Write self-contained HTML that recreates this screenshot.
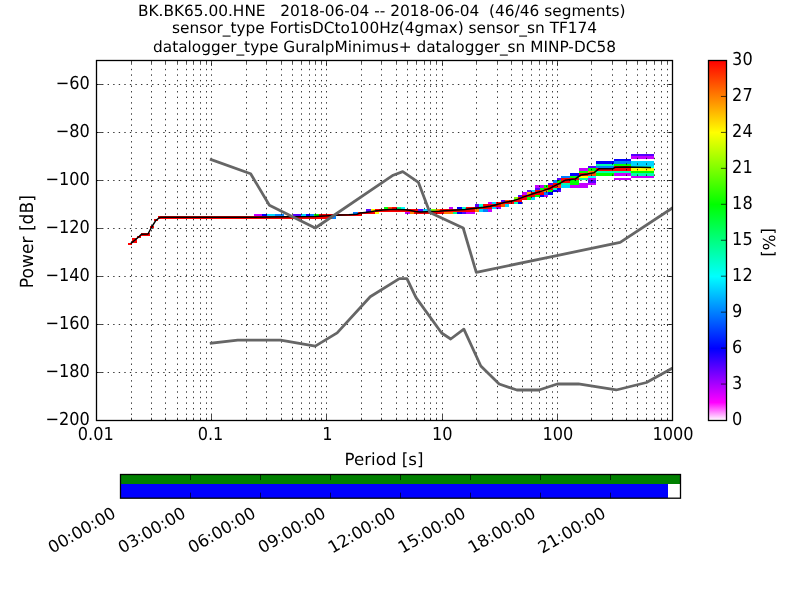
<!DOCTYPE html><html><head><meta charset="utf-8"><style>html,body{margin:0;padding:0;background:#fff;overflow:hidden}svg{display:block;will-change:transform;text-rendering:geometricPrecision}</style></head><body>
<svg width="800" height="600" viewBox="0 0 800 600" style="font-family:'DejaVu Sans','Liberation Sans',sans-serif">
<defs><clipPath id="c"><rect x="96.0" y="60.0" width="576.0" height="360.0"/></clipPath>
<linearGradient id="cm" x1="0" y1="1" x2="0" y2="0"><stop offset="0" stop-color="#fff"/><stop offset="0.05" stop-color="#f0f"/><stop offset="0.2" stop-color="#00f"/><stop offset="0.4" stop-color="#0ff"/><stop offset="0.6" stop-color="#0f0"/><stop offset="0.8" stop-color="#ff0"/><stop offset="1" stop-color="#f00"/></linearGradient></defs>
<g shape-rendering="crispEdges"><rect x="128" y="243" width="4" height="2" fill="#ff0000"/><rect x="132" y="240" width="5" height="3" fill="#ff0000"/><rect x="132" y="238" width="5" height="2" fill="#ff0000"/><rect x="137" y="236" width="4" height="2" fill="#ff0000"/><rect x="141" y="233" width="4" height="3" fill="#ff0000"/><rect x="145" y="233" width="5" height="3" fill="#ff0000"/><rect x="150" y="226" width="4" height="2" fill="#ff0000"/><rect x="154" y="219" width="4" height="2" fill="#ff0000"/><rect x="158" y="216" width="5" height="3" fill="#ff0000"/><rect x="163" y="216" width="4" height="3" fill="#ff0000"/><rect x="167" y="216" width="4" height="3" fill="#ff0000"/><rect x="171" y="216" width="5" height="3" fill="#ff0000"/><rect x="176" y="216" width="4" height="3" fill="#ff0000"/><rect x="180" y="216" width="4" height="3" fill="#ff0000"/><rect x="184" y="216" width="5" height="3" fill="#ff0000"/><rect x="189" y="216" width="4" height="3" fill="#ff0000"/><rect x="193" y="216" width="4" height="3" fill="#ff0000"/><rect x="197" y="216" width="5" height="3" fill="#ff0000"/><rect x="202" y="216" width="4" height="3" fill="#ff0000"/><rect x="206" y="216" width="4" height="3" fill="#ff0000"/><rect x="210" y="216" width="5" height="3" fill="#ff0000"/><rect x="215" y="216" width="4" height="3" fill="#ff0000"/><rect x="219" y="216" width="4" height="3" fill="#ff0000"/><rect x="223" y="216" width="5" height="3" fill="#ff0000"/><rect x="228" y="216" width="4" height="3" fill="#ff0000"/><rect x="232" y="216" width="4" height="3" fill="#ff0000"/><rect x="236" y="216" width="5" height="3" fill="#ff0000"/><rect x="241" y="216" width="4" height="3" fill="#ff0000"/><rect x="245" y="216" width="4" height="3" fill="#ff0000"/><rect x="249" y="216" width="5" height="3" fill="#ff0000"/><rect x="254" y="216" width="4" height="3" fill="#ff0000"/><rect x="254" y="214" width="4" height="2" fill="#c600ff"/><rect x="258" y="216" width="4" height="3" fill="#ff0000"/><rect x="258" y="214" width="4" height="2" fill="#c600ff"/><rect x="262" y="216" width="5" height="3" fill="#ff0000"/><rect x="262" y="214" width="5" height="2" fill="#0000ff"/><rect x="267" y="216" width="4" height="3" fill="#ff0000"/><rect x="267" y="214" width="4" height="2" fill="#00d4ff"/><rect x="271" y="216" width="4" height="3" fill="#ff0000"/><rect x="271" y="214" width="4" height="2" fill="#00d4ff"/><rect x="275" y="216" width="5" height="3" fill="#ff0000"/><rect x="275" y="214" width="5" height="2" fill="#007fff"/><rect x="280" y="216" width="4" height="3" fill="#ff0000"/><rect x="280" y="214" width="4" height="2" fill="#007fff"/><rect x="284" y="216" width="4" height="3" fill="#ff0000"/><rect x="288" y="216" width="5" height="3" fill="#ff0000"/><rect x="293" y="216" width="4" height="3" fill="#ff0000"/><rect x="293" y="214" width="4" height="2" fill="#5500ff"/><rect x="297" y="216" width="4" height="3" fill="#ff0000"/><rect x="297" y="214" width="4" height="2" fill="#5500ff"/><rect x="301" y="216" width="5" height="3" fill="#ff0000"/><rect x="301" y="214" width="5" height="2" fill="#00d4ff"/><rect x="306" y="216" width="4" height="3" fill="#ff0000"/><rect x="306" y="214" width="4" height="2" fill="#0000ff"/><rect x="310" y="216" width="4" height="3" fill="#ff0000"/><rect x="310" y="214" width="4" height="2" fill="#007fff"/><rect x="314" y="216" width="5" height="3" fill="#ff0000"/><rect x="314" y="214" width="5" height="2" fill="#00ff00"/><rect x="319" y="216" width="4" height="3" fill="#ff0000"/><rect x="319" y="214" width="4" height="2" fill="#ff0000"/><rect x="323" y="216" width="4" height="3" fill="#ff0000"/><rect x="323" y="214" width="4" height="2" fill="#ff0000"/><rect x="327" y="214" width="5" height="2" fill="#ff0000"/><rect x="327" y="216" width="5" height="3" fill="#ff0000"/><rect x="332" y="216" width="4" height="3" fill="#007fff"/><rect x="332" y="214" width="4" height="2" fill="#ff0000"/><rect x="336" y="214" width="4" height="2" fill="#ff0000"/><rect x="340" y="214" width="5" height="2" fill="#ff0000"/><rect x="345" y="214" width="4" height="2" fill="#ff0000"/><rect x="349" y="214" width="4" height="2" fill="#ff0000"/><rect x="353" y="214" width="5" height="2" fill="#ff0000"/><rect x="353" y="212" width="5" height="2" fill="#007fff"/><rect x="358" y="214" width="4" height="2" fill="#ff0000"/><rect x="358" y="212" width="4" height="2" fill="#ff0000"/><rect x="362" y="212" width="4" height="2" fill="#ff0000"/><rect x="366" y="212" width="5" height="2" fill="#ff0000"/><rect x="366" y="209" width="5" height="3" fill="#5500ff"/><rect x="371" y="212" width="4" height="2" fill="#ff0000"/><rect x="371" y="209" width="4" height="3" fill="#ffff00"/><rect x="375" y="212" width="4" height="2" fill="#ffff00"/><rect x="375" y="209" width="4" height="3" fill="#ff0000"/><rect x="379" y="209" width="5" height="3" fill="#ff0000"/><rect x="384" y="209" width="4" height="3" fill="#ff0000"/><rect x="384" y="207" width="4" height="2" fill="#00ff00"/><rect x="388" y="209" width="4" height="3" fill="#ff0000"/><rect x="388" y="207" width="4" height="2" fill="#ff5500"/><rect x="392" y="209" width="5" height="3" fill="#ff0000"/><rect x="392" y="207" width="5" height="2" fill="#ff0000"/><rect x="397" y="209" width="4" height="3" fill="#ff0000"/><rect x="397" y="207" width="4" height="2" fill="#00ff80"/><rect x="401" y="209" width="4" height="3" fill="#ff0000"/><rect x="401" y="207" width="4" height="2" fill="#00ffff"/><rect x="405" y="209" width="5" height="3" fill="#ff0000"/><rect x="405" y="212" width="5" height="2" fill="#c600ff"/><rect x="410" y="209" width="4" height="3" fill="#ff0000"/><rect x="410" y="212" width="4" height="2" fill="#ff8000"/><rect x="414" y="209" width="4" height="3" fill="#ff0000"/><rect x="414" y="212" width="4" height="2" fill="#ff0000"/><rect x="418" y="209" width="5" height="3" fill="#5500ff"/><rect x="418" y="212" width="5" height="2" fill="#ff0000"/><rect x="423" y="209" width="4" height="3" fill="#00d4ff"/><rect x="423" y="212" width="4" height="2" fill="#ff0000"/><rect x="427" y="209" width="4" height="3" fill="#00d4ff"/><rect x="427" y="212" width="4" height="2" fill="#ff0000"/><rect x="431" y="209" width="5" height="3" fill="#7fff00"/><rect x="431" y="212" width="5" height="2" fill="#ff0000"/><rect x="436" y="209" width="4" height="3" fill="#ff8000"/><rect x="436" y="212" width="4" height="2" fill="#ff0000"/><rect x="440" y="209" width="4" height="3" fill="#ff0000"/><rect x="440" y="212" width="4" height="2" fill="#ff0000"/><rect x="444" y="209" width="5" height="3" fill="#ff0000"/><rect x="444" y="212" width="5" height="2" fill="#ff8000"/><rect x="449" y="209" width="4" height="3" fill="#ff0000"/><rect x="449" y="212" width="4" height="2" fill="#ff8000"/><rect x="449" y="207" width="4" height="2" fill="#c600ff"/><rect x="453" y="209" width="4" height="3" fill="#ff0000"/><rect x="453" y="212" width="4" height="2" fill="#00ff80"/><rect x="457" y="209" width="5" height="3" fill="#ff0000"/><rect x="457" y="212" width="5" height="2" fill="#0000ff"/><rect x="457" y="207" width="5" height="2" fill="#0000ff"/><rect x="462" y="209" width="4" height="3" fill="#ff0000"/><rect x="462" y="212" width="4" height="2" fill="#5500ff"/><rect x="462" y="207" width="4" height="2" fill="#00ffd4"/><rect x="466" y="209" width="4" height="3" fill="#ff0000"/><rect x="466" y="212" width="4" height="2" fill="#c600ff"/><rect x="466" y="207" width="4" height="2" fill="#ff0000"/><rect x="470" y="209" width="5" height="3" fill="#ff0000"/><rect x="470" y="212" width="5" height="2" fill="#c600ff"/><rect x="470" y="207" width="5" height="2" fill="#ff0000"/><rect x="475" y="204" width="4" height="3" fill="#5500ff"/><rect x="475" y="207" width="4" height="2" fill="#ff0000"/><rect x="475" y="209" width="4" height="3" fill="#ff8000"/><rect x="479" y="204" width="4" height="3" fill="#00ffd4"/><rect x="479" y="207" width="4" height="2" fill="#ff0000"/><rect x="479" y="209" width="4" height="3" fill="#00d4ff"/><rect x="483" y="204" width="5" height="3" fill="#ff0000"/><rect x="483" y="207" width="5" height="2" fill="#ff0000"/><rect x="483" y="209" width="5" height="3" fill="#007fff"/><rect x="488" y="202" width="4" height="2" fill="#c600ff"/><rect x="488" y="204" width="4" height="3" fill="#ff0000"/><rect x="488" y="207" width="4" height="2" fill="#ff0000"/><rect x="488" y="209" width="4" height="3" fill="#c600ff"/><rect x="492" y="202" width="4" height="2" fill="#00d4ff"/><rect x="492" y="204" width="4" height="3" fill="#ff0000"/><rect x="492" y="207" width="4" height="2" fill="#00d4ff"/><rect x="496" y="202" width="5" height="2" fill="#ff0000"/><rect x="496" y="204" width="5" height="3" fill="#ff0000"/><rect x="496" y="207" width="5" height="2" fill="#aa00ff"/><rect x="501" y="200" width="4" height="2" fill="#5500ff"/><rect x="501" y="202" width="4" height="2" fill="#ff0000"/><rect x="501" y="204" width="4" height="3" fill="#ff5500"/><rect x="505" y="200" width="4" height="2" fill="#ff5500"/><rect x="505" y="202" width="4" height="2" fill="#ff0000"/><rect x="505" y="204" width="4" height="3" fill="#00d4ff"/><rect x="509" y="200" width="5" height="2" fill="#ff0000"/><rect x="509" y="202" width="5" height="2" fill="#ff0000"/><rect x="514" y="197" width="4" height="3" fill="#7fff00"/><rect x="514" y="200" width="4" height="2" fill="#ff0000"/><rect x="514" y="202" width="4" height="2" fill="#00ffaa"/><rect x="518" y="195" width="4" height="2" fill="#5500ff"/><rect x="518" y="197" width="4" height="3" fill="#ff0000"/><rect x="518" y="200" width="4" height="2" fill="#ff0000"/><rect x="518" y="202" width="4" height="2" fill="#0000ff"/><rect x="522" y="192" width="5" height="3" fill="#c600ff"/><rect x="522" y="195" width="5" height="2" fill="#ff0000"/><rect x="522" y="197" width="5" height="3" fill="#ff0000"/><rect x="527" y="190" width="4" height="2" fill="#5500ff"/><rect x="527" y="192" width="4" height="3" fill="#ffaa00"/><rect x="527" y="195" width="4" height="2" fill="#ff0000"/><rect x="527" y="197" width="4" height="3" fill="#00ff00"/><rect x="531" y="190" width="4" height="2" fill="#00d4ff"/><rect x="531" y="192" width="4" height="3" fill="#ff0000"/><rect x="531" y="195" width="4" height="2" fill="#ff0000"/><rect x="531" y="197" width="4" height="3" fill="#00d4ff"/><rect x="535" y="185" width="5" height="3" fill="#c600ff"/><rect x="535" y="188" width="5" height="2" fill="#5500ff"/><rect x="535" y="190" width="5" height="2" fill="#ff0000"/><rect x="535" y="192" width="5" height="3" fill="#ff0000"/><rect x="535" y="195" width="5" height="2" fill="#00ff00"/><rect x="540" y="185" width="4" height="3" fill="#c600ff"/><rect x="540" y="188" width="4" height="2" fill="#00ff00"/><rect x="540" y="190" width="4" height="2" fill="#ff5500"/><rect x="540" y="192" width="4" height="3" fill="#ff0000"/><rect x="540" y="195" width="4" height="2" fill="#0000ff"/><rect x="544" y="185" width="4" height="3" fill="#00ff00"/><rect x="544" y="188" width="4" height="2" fill="#ff0000"/><rect x="544" y="190" width="4" height="2" fill="#ff8000"/><rect x="544" y="192" width="4" height="3" fill="#007fff"/><rect x="544" y="195" width="4" height="2" fill="#c600ff"/><rect x="548" y="183" width="5" height="2" fill="#5500ff"/><rect x="548" y="185" width="5" height="3" fill="#ff0000"/><rect x="548" y="188" width="5" height="2" fill="#ff0000"/><rect x="548" y="190" width="5" height="2" fill="#00ff00"/><rect x="548" y="192" width="5" height="3" fill="#0000ff"/><rect x="553" y="180" width="4" height="3" fill="#007fff"/><rect x="553" y="183" width="4" height="2" fill="#ff0000"/><rect x="553" y="185" width="4" height="3" fill="#ff0000"/><rect x="553" y="188" width="4" height="2" fill="#00ffaa"/><rect x="553" y="190" width="4" height="2" fill="#0000ff"/><rect x="557" y="178" width="4" height="2" fill="#5500ff"/><rect x="557" y="180" width="4" height="3" fill="#00ff00"/><rect x="557" y="183" width="4" height="2" fill="#ff0000"/><rect x="557" y="185" width="4" height="3" fill="#ff5500"/><rect x="557" y="188" width="4" height="2" fill="#0000ff"/><rect x="557" y="190" width="4" height="2" fill="#5500ff"/><rect x="561" y="176" width="5" height="2" fill="#007fff"/><rect x="561" y="178" width="5" height="2" fill="#ff0000"/><rect x="561" y="180" width="5" height="3" fill="#ff0000"/><rect x="561" y="183" width="5" height="2" fill="#00ffaa"/><rect x="561" y="185" width="5" height="3" fill="#00d4ff"/><rect x="566" y="176" width="4" height="2" fill="#007fff"/><rect x="566" y="178" width="4" height="2" fill="#ff0000"/><rect x="566" y="180" width="4" height="3" fill="#ff0000"/><rect x="566" y="183" width="4" height="2" fill="#00ffaa"/><rect x="566" y="185" width="4" height="3" fill="#00d4ff"/><rect x="570" y="173" width="5" height="3" fill="#0000ff"/><rect x="570" y="176" width="5" height="2" fill="#00ff00"/><rect x="570" y="178" width="5" height="2" fill="#ff0000"/><rect x="570" y="180" width="5" height="3" fill="#00ff00"/><rect x="570" y="183" width="5" height="2" fill="#00ff00"/><rect x="570" y="185" width="5" height="3" fill="#c600ff"/><rect x="575" y="173" width="4" height="3" fill="#0000ff"/><rect x="575" y="176" width="4" height="2" fill="#00ff00"/><rect x="575" y="178" width="4" height="2" fill="#ff0000"/><rect x="575" y="180" width="4" height="3" fill="#00ff00"/><rect x="575" y="183" width="4" height="2" fill="#00ff00"/><rect x="575" y="185" width="4" height="3" fill="#c600ff"/><rect x="579" y="168" width="4" height="3" fill="#c600ff"/><rect x="579" y="171" width="4" height="2" fill="#00ff00"/><rect x="579" y="173" width="4" height="3" fill="#ff0000"/><rect x="579" y="176" width="4" height="2" fill="#ffff00"/><rect x="579" y="178" width="4" height="2" fill="#00ffaa"/><rect x="579" y="183" width="4" height="2" fill="#c600ff"/><rect x="579" y="185" width="4" height="3" fill="#c600ff"/><rect x="583" y="168" width="5" height="3" fill="#c600ff"/><rect x="583" y="171" width="5" height="2" fill="#00ff00"/><rect x="583" y="173" width="5" height="3" fill="#ff0000"/><rect x="583" y="176" width="5" height="2" fill="#ffff00"/><rect x="583" y="178" width="5" height="2" fill="#00ffaa"/><rect x="583" y="183" width="5" height="2" fill="#c600ff"/><rect x="583" y="185" width="5" height="3" fill="#c600ff"/><rect x="588" y="166" width="4" height="2" fill="#5500ff"/><rect x="588" y="168" width="4" height="3" fill="#00ff00"/><rect x="588" y="171" width="4" height="2" fill="#ff8000"/><rect x="588" y="173" width="4" height="3" fill="#ff5500"/><rect x="588" y="176" width="4" height="2" fill="#00ffff"/><rect x="588" y="178" width="4" height="2" fill="#c600ff"/><rect x="588" y="180" width="4" height="3" fill="#5500ff"/><rect x="588" y="183" width="4" height="2" fill="#c600ff"/><rect x="592" y="166" width="4" height="2" fill="#5500ff"/><rect x="592" y="168" width="4" height="3" fill="#00ff00"/><rect x="592" y="171" width="4" height="2" fill="#ff8000"/><rect x="592" y="173" width="4" height="3" fill="#ff5500"/><rect x="592" y="176" width="4" height="2" fill="#00ffff"/><rect x="592" y="178" width="4" height="2" fill="#c600ff"/><rect x="592" y="180" width="4" height="3" fill="#5500ff"/><rect x="592" y="183" width="4" height="2" fill="#c600ff"/><rect x="596" y="161" width="5" height="3" fill="#0000ff"/><rect x="596" y="164" width="5" height="2" fill="#00ffaa"/><rect x="596" y="166" width="5" height="2" fill="#007fff"/><rect x="596" y="168" width="5" height="3" fill="#ff0000"/><rect x="596" y="171" width="5" height="2" fill="#00ffaa"/><rect x="596" y="173" width="5" height="3" fill="#00ff00"/><rect x="601" y="161" width="4" height="3" fill="#0000ff"/><rect x="601" y="164" width="4" height="2" fill="#00ffaa"/><rect x="601" y="166" width="4" height="2" fill="#007fff"/><rect x="601" y="168" width="4" height="3" fill="#ff0000"/><rect x="601" y="171" width="4" height="2" fill="#00ffaa"/><rect x="601" y="173" width="4" height="3" fill="#00ff00"/><rect x="605" y="161" width="4" height="3" fill="#0000ff"/><rect x="605" y="164" width="4" height="2" fill="#00ffaa"/><rect x="605" y="166" width="4" height="2" fill="#007fff"/><rect x="605" y="168" width="4" height="3" fill="#ff0000"/><rect x="605" y="171" width="4" height="2" fill="#00ffaa"/><rect x="605" y="173" width="4" height="3" fill="#00ff00"/><rect x="609" y="161" width="5" height="3" fill="#0000ff"/><rect x="609" y="164" width="5" height="2" fill="#00ffaa"/><rect x="609" y="166" width="5" height="2" fill="#007fff"/><rect x="609" y="168" width="5" height="3" fill="#ff0000"/><rect x="609" y="171" width="5" height="2" fill="#00ffaa"/><rect x="609" y="173" width="5" height="3" fill="#00ff00"/><rect x="614" y="159" width="4" height="2" fill="#0000ff"/><rect x="614" y="161" width="4" height="3" fill="#007fff"/><rect x="614" y="164" width="4" height="2" fill="#00ff00"/><rect x="614" y="166" width="4" height="2" fill="#ff0000"/><rect x="614" y="168" width="4" height="3" fill="#ff0000"/><rect x="614" y="171" width="4" height="2" fill="#00ffaa"/><rect x="614" y="173" width="4" height="3" fill="#c600ff"/><rect x="614" y="178" width="4" height="2" fill="#c600ff"/><rect x="618" y="159" width="4" height="2" fill="#0000ff"/><rect x="618" y="161" width="4" height="3" fill="#007fff"/><rect x="618" y="164" width="4" height="2" fill="#00ff00"/><rect x="618" y="166" width="4" height="2" fill="#ff0000"/><rect x="618" y="168" width="4" height="3" fill="#ff0000"/><rect x="618" y="171" width="4" height="2" fill="#00ffaa"/><rect x="618" y="173" width="4" height="3" fill="#c600ff"/><rect x="618" y="178" width="4" height="2" fill="#c600ff"/><rect x="622" y="159" width="5" height="2" fill="#0000ff"/><rect x="622" y="161" width="5" height="3" fill="#007fff"/><rect x="622" y="164" width="5" height="2" fill="#00ff00"/><rect x="622" y="166" width="5" height="2" fill="#ff0000"/><rect x="622" y="168" width="5" height="3" fill="#ff0000"/><rect x="622" y="171" width="5" height="2" fill="#00ffaa"/><rect x="622" y="173" width="5" height="3" fill="#c600ff"/><rect x="622" y="178" width="5" height="2" fill="#c600ff"/><rect x="627" y="159" width="4" height="2" fill="#0000ff"/><rect x="627" y="161" width="4" height="3" fill="#007fff"/><rect x="627" y="164" width="4" height="2" fill="#00ff00"/><rect x="627" y="166" width="4" height="2" fill="#ff0000"/><rect x="627" y="168" width="4" height="3" fill="#ff0000"/><rect x="627" y="171" width="4" height="2" fill="#00ffaa"/><rect x="627" y="173" width="4" height="3" fill="#c600ff"/><rect x="627" y="178" width="4" height="2" fill="#c600ff"/><rect x="631" y="154" width="4" height="2" fill="#5500ff"/><rect x="631" y="156" width="4" height="3" fill="#c600ff"/><rect x="631" y="161" width="4" height="3" fill="#00d4ff"/><rect x="631" y="164" width="4" height="2" fill="#00d4ff"/><rect x="631" y="166" width="4" height="2" fill="#00ffd4"/><rect x="631" y="168" width="4" height="3" fill="#ffff00"/><rect x="631" y="171" width="4" height="2" fill="#00ff00"/><rect x="631" y="173" width="4" height="3" fill="#00ffaa"/><rect x="631" y="176" width="4" height="2" fill="#c600ff"/><rect x="635" y="154" width="5" height="2" fill="#5500ff"/><rect x="635" y="156" width="5" height="3" fill="#c600ff"/><rect x="635" y="161" width="5" height="3" fill="#00d4ff"/><rect x="635" y="164" width="5" height="2" fill="#00d4ff"/><rect x="635" y="166" width="5" height="2" fill="#00ffd4"/><rect x="635" y="168" width="5" height="3" fill="#ffff00"/><rect x="635" y="171" width="5" height="2" fill="#00ff00"/><rect x="635" y="173" width="5" height="3" fill="#00ffaa"/><rect x="635" y="176" width="5" height="2" fill="#c600ff"/><rect x="640" y="154" width="4" height="2" fill="#5500ff"/><rect x="640" y="156" width="4" height="3" fill="#c600ff"/><rect x="640" y="161" width="4" height="3" fill="#00d4ff"/><rect x="640" y="164" width="4" height="2" fill="#00d4ff"/><rect x="640" y="166" width="4" height="2" fill="#00ffd4"/><rect x="640" y="168" width="4" height="3" fill="#ffff00"/><rect x="640" y="171" width="4" height="2" fill="#00ff00"/><rect x="640" y="173" width="4" height="3" fill="#00ffaa"/><rect x="640" y="176" width="4" height="2" fill="#c600ff"/><rect x="644" y="154" width="4" height="2" fill="#5500ff"/><rect x="644" y="156" width="4" height="3" fill="#c600ff"/><rect x="644" y="161" width="4" height="3" fill="#00d4ff"/><rect x="644" y="164" width="4" height="2" fill="#00d4ff"/><rect x="644" y="166" width="4" height="2" fill="#00ffd4"/><rect x="644" y="168" width="4" height="3" fill="#ffff00"/><rect x="644" y="171" width="4" height="2" fill="#00ff00"/><rect x="644" y="173" width="4" height="3" fill="#00ffaa"/><rect x="644" y="176" width="4" height="2" fill="#c600ff"/><rect x="648" y="154" width="6" height="2" fill="#5500ff"/><rect x="648" y="156" width="6" height="3" fill="#c600ff"/><rect x="648" y="161" width="6" height="3" fill="#00d4ff"/><rect x="648" y="164" width="6" height="2" fill="#00d4ff"/><rect x="648" y="166" width="6" height="2" fill="#00ffd4"/><rect x="648" y="168" width="6" height="3" fill="#ffff00"/><rect x="648" y="171" width="6" height="2" fill="#00ff00"/><rect x="648" y="173" width="6" height="3" fill="#00ffaa"/><rect x="648" y="176" width="6" height="2" fill="#c600ff"/></g>
<path d="M131.5 420.5V60M151.5 420.5V60M165.5 420.5V60M177.5 420.5V60M186.5 420.5V60M193.5 420.5V60M200.5 420.5V60M206.5 420.5V60M211.5 420.5V60M246.5 420.5V60M266.5 420.5V60M281.5 420.5V60M292.5 420.5V60M301.5 420.5V60M309.5 420.5V60M315.5 420.5V60M321.5 420.5V60M326.5 420.5V60M361.5 420.5V60M381.5 420.5V60M396.5 420.5V60M407.5 420.5V60M416.5 420.5V60M424.5 420.5V60M430.5 420.5V60M436.5 420.5V60M442.5 420.5V60M476.5 420.5V60M497.5 420.5V60M511.5 420.5V60M522.5 420.5V60M531.5 420.5V60M539.5 420.5V60M546.5 420.5V60M552.5 420.5V60M557.5 420.5V60M591.5 420.5V60M612.5 420.5V60M626.5 420.5V60M637.5 420.5V60M646.5 420.5V60M654.5 420.5V60M661.5 420.5V60M667.5 420.5V60M96.5 84.5H672M96.5 132.5H672M96.5 180.5H672M96.5 228.5H672M96.5 276.5H672M96.5 324.5H672M96.5 372.5H672" stroke="#000" stroke-width="0.8" stroke-dasharray="1.39 4.17" fill="none"/>
<polyline points="130.7,243.6 135.0,240.0 139.3,236.4 141.5,234.2 148.0,234.0 151.7,227.0 155.7,220.7 159.7,217.5 161.0,217.2 250.0,217.2 290.0,216.8 315.0,216.4 327.5,215.8 340.0,214.9 348.8,214.7 356.9,214.2 360.0,213.1 365.0,212.4 370.6,211.8 375.0,211.1 378.8,210.6 382.5,210.0 390.0,209.6 397.5,209.6 405.0,209.8 409.2,210.2 415.5,211.4 420.0,211.9 431.2,211.4 438.8,211.2 444.4,210.7 452.5,210.2 465.0,209.5 475.0,208.2 483.8,207.2 490.0,206.2 497.5,204.4 505.0,202.2 511.2,201.2 517.5,199.4 523.8,196.9 530.0,194.7 536.2,192.8 542.5,190.9 548.8,188.8 555.0,185.6 561.0,182.7 565.0,180.3 575.0,179.1 578.1,176.9 581.2,175.0 587.5,174.1 593.8,172.8 598.8,168.8 612.5,168.8 615.6,167.2 625.0,166.9 640.0,167.3 651.0,167.4" fill="none" stroke="#000" stroke-width="1.5" stroke-linejoin="round"/>
<g clip-path="url(#c)" fill="none" stroke="#666" stroke-width="2.78" stroke-linejoin="round" stroke-linecap="square">
<polyline points="211.20,159.60 250.65,173.77 269.39,205.20 315.24,228.00 393.19,175.19 402.75,171.59 418.48,182.40 429.81,212.39 463.20,228.01 476.28,272.39 620.16,242.41 902.40,56.42"/>
<polyline points="211.20,343.20 237.75,340.08 280.56,340.07 315.24,346.08 337.16,332.87 370.20,296.75 399.38,278.64 406.92,278.63 416.04,297.60 441.60,333.00 450.72,338.99 463.85,329.11 480.82,366.01 499.16,383.99 516.85,390.00 538.96,390.00 557.30,384.00 578.40,383.97 616.23,389.98 646.44,382.51 787.20,304.51 902.40,187.51"/>
</g>
<path d="M96.5 420.5v-5.56M96.5 60.5v5.56M131.5 420.5v-2.78M131.5 60.5v2.78M151.5 420.5v-2.78M151.5 60.5v2.78M165.5 420.5v-2.78M165.5 60.5v2.78M177.5 420.5v-2.78M177.5 60.5v2.78M186.5 420.5v-2.78M186.5 60.5v2.78M193.5 420.5v-2.78M193.5 60.5v2.78M200.5 420.5v-2.78M200.5 60.5v2.78M206.5 420.5v-2.78M206.5 60.5v2.78M211.5 420.5v-5.56M211.5 60.5v5.56M246.5 420.5v-2.78M246.5 60.5v2.78M266.5 420.5v-2.78M266.5 60.5v2.78M281.5 420.5v-2.78M281.5 60.5v2.78M292.5 420.5v-2.78M292.5 60.5v2.78M301.5 420.5v-2.78M301.5 60.5v2.78M309.5 420.5v-2.78M309.5 60.5v2.78M315.5 420.5v-2.78M315.5 60.5v2.78M321.5 420.5v-2.78M321.5 60.5v2.78M326.5 420.5v-5.56M326.5 60.5v5.56M361.5 420.5v-2.78M361.5 60.5v2.78M381.5 420.5v-2.78M381.5 60.5v2.78M396.5 420.5v-2.78M396.5 60.5v2.78M407.5 420.5v-2.78M407.5 60.5v2.78M416.5 420.5v-2.78M416.5 60.5v2.78M424.5 420.5v-2.78M424.5 60.5v2.78M430.5 420.5v-2.78M430.5 60.5v2.78M436.5 420.5v-2.78M436.5 60.5v2.78M442.5 420.5v-5.56M442.5 60.5v5.56M476.5 420.5v-2.78M476.5 60.5v2.78M497.5 420.5v-2.78M497.5 60.5v2.78M511.5 420.5v-2.78M511.5 60.5v2.78M522.5 420.5v-2.78M522.5 60.5v2.78M531.5 420.5v-2.78M531.5 60.5v2.78M539.5 420.5v-2.78M539.5 60.5v2.78M546.5 420.5v-2.78M546.5 60.5v2.78M552.5 420.5v-2.78M552.5 60.5v2.78M557.5 420.5v-5.56M557.5 60.5v5.56M591.5 420.5v-2.78M591.5 60.5v2.78M612.5 420.5v-2.78M612.5 60.5v2.78M626.5 420.5v-2.78M626.5 60.5v2.78M637.5 420.5v-2.78M637.5 60.5v2.78M646.5 420.5v-2.78M646.5 60.5v2.78M654.5 420.5v-2.78M654.5 60.5v2.78M661.5 420.5v-2.78M661.5 60.5v2.78M667.5 420.5v-2.78M667.5 60.5v2.78M672.5 420.5v-5.56M672.5 60.5v5.56M96.5 84.5h5.56M672.5 84.5h-5.56M96.5 132.5h5.56M672.5 132.5h-5.56M96.5 180.5h5.56M672.5 180.5h-5.56M96.5 228.5h5.56M672.5 228.5h-5.56M96.5 276.5h5.56M672.5 276.5h-5.56M96.5 324.5h5.56M672.5 324.5h-5.56M96.5 372.5h5.56M672.5 372.5h-5.56M96.5 420.5h5.56M672.5 420.5h-5.56" stroke="#000" stroke-width="0.7" fill="none"/>
<rect x="96.5" y="60.5" width="576" height="360" fill="none" stroke="#000" stroke-width="1.3"/>
<g font-size="16.67px" fill="#000">
<text transform="translate(89.8 88.60) scale(0.97 1.07)" text-anchor="end">−60</text>
<text transform="translate(89.8 136.60) scale(0.97 1.07)" text-anchor="end">−80</text>
<text transform="translate(89.8 184.60) scale(0.97 1.07)" text-anchor="end">−100</text>
<text transform="translate(89.8 232.60) scale(0.97 1.07)" text-anchor="end">−120</text>
<text transform="translate(89.8 280.60) scale(0.97 1.07)" text-anchor="end">−140</text>
<text transform="translate(89.8 328.60) scale(0.97 1.07)" text-anchor="end">−160</text>
<text transform="translate(89.8 376.60) scale(0.97 1.07)" text-anchor="end">−180</text>
<text transform="translate(89.8 424.60) scale(0.97 1.07)" text-anchor="end">−200</text>
<text transform="translate(95.75 439.9) scale(0.97 1.07)" text-anchor="middle">0.01</text>
<text transform="translate(210.50 439.9) scale(0.97 1.07)" text-anchor="middle">0.1</text>
<text transform="translate(327.30 439.9) scale(0.97 1.07)" text-anchor="middle">1</text>
<text transform="translate(442.20 439.9) scale(0.97 1.07)" text-anchor="middle">10</text>
<text transform="translate(557.80 439.9) scale(0.97 1.07)" text-anchor="middle">100</text>
<text transform="translate(673.00 439.9) scale(0.97 1.07)" text-anchor="middle">1000</text>
<text x="384" y="464.5" text-anchor="middle">Period [s]</text>
<text transform="translate(32.9 241.7) rotate(-90) scale(1 1.06)" text-anchor="middle" font-size="17.1px">Power [dB]</text>
</g>
<g font-size="15.35px" fill="#000">
<text x="138" y="15.9">BK.BK65.00.HNE   2018-06-04 -- 2018-06-04  (46/46 segments)</text>
<text x="172" y="33.4">sensor_type FortisDCto100Hz(4gmax) sensor_sn TF174</text>
<text x="153" y="52.1">datalogger_type GuralpMinimus+ datalogger_sn MINP-DC58</text>
</g>
<rect x="708.5" y="60.5" width="18" height="360" fill="url(#cm)" stroke="#000" stroke-width="1.3"/>
<g font-size="16.67px" fill="#000">
<text transform="translate(732.1 424.60) scale(0.97 1.07)">0</text>
<text transform="translate(732.1 388.65) scale(0.97 1.07)">3</text>
<text transform="translate(732.1 352.70) scale(0.97 1.07)">6</text>
<text transform="translate(732.1 316.75) scale(0.97 1.07)">9</text>
<text transform="translate(732.1 280.80) scale(0.97 1.07)">12</text>
<text transform="translate(732.1 244.85) scale(0.97 1.07)">15</text>
<text transform="translate(732.1 208.90) scale(0.97 1.07)">18</text>
<text transform="translate(732.1 172.95) scale(0.97 1.07)">21</text>
<text transform="translate(732.1 137.00) scale(0.97 1.07)">24</text>
<text transform="translate(732.1 101.05) scale(0.97 1.07)">27</text>
<text transform="translate(732.1 65.10) scale(0.97 1.07)">30</text>
<text transform="translate(763.4 242.3) rotate(90)" text-anchor="middle">[%]</text>
</g>
<path d="M726.5 384.05h-5.56M726.5 348.10h-5.56M726.5 312.15h-5.56M726.5 276.20h-5.56M726.5 240.25h-5.56M726.5 204.30h-5.56M726.5 168.35h-5.56M726.5 132.40h-5.56M726.5 96.45h-5.56" stroke="#000" stroke-width="0.7" fill="none"/>
<rect x="120" y="474" width="560" height="10" fill="#008000"/>
<rect x="120" y="484" width="548" height="14" fill="#0000ff"/>
<path d="M190.5 474.5v5.56M190.5 498.2v-5.56M260.5 474.5v5.56M260.5 498.2v-5.56M330.5 474.5v5.56M330.5 498.2v-5.56M400.5 474.5v5.56M400.5 498.2v-5.56M470.5 474.5v5.56M470.5 498.2v-5.56M540.5 474.5v5.56M540.5 498.2v-5.56M610.5 474.5v5.56M610.5 498.2v-5.56" stroke="#000" stroke-width="0.7" fill="none"/>
<rect x="120.5" y="474.5" width="560" height="23.7" fill="none" stroke="#000" stroke-width="1.3"/>
<g font-size="16.67px" fill="#000">
<text transform="translate(111.0 506) rotate(-30)" text-anchor="end" dy="12">00:00:00</text>
<text transform="translate(181.0 506) rotate(-30)" text-anchor="end" dy="12">03:00:00</text>
<text transform="translate(251.0 506) rotate(-30)" text-anchor="end" dy="12">06:00:00</text>
<text transform="translate(321.0 506) rotate(-30)" text-anchor="end" dy="12">09:00:00</text>
<text transform="translate(391.0 506) rotate(-30)" text-anchor="end" dy="12">12:00:00</text>
<text transform="translate(461.0 506) rotate(-30)" text-anchor="end" dy="12">15:00:00</text>
<text transform="translate(531.0 506) rotate(-30)" text-anchor="end" dy="12">18:00:00</text>
<text transform="translate(601.0 506) rotate(-30)" text-anchor="end" dy="12">21:00:00</text>
</g>
</svg></body></html>
